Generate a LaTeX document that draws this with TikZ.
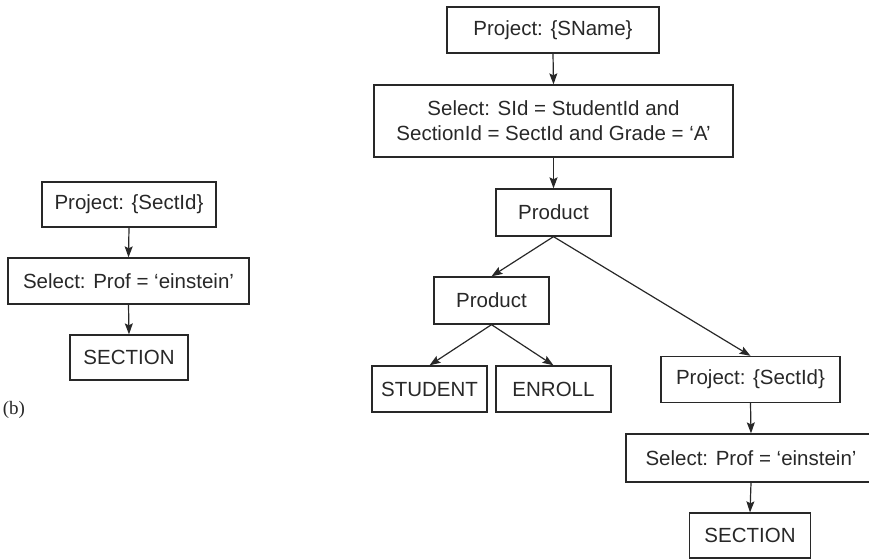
\documentclass[tikz,border=0pt]{standalone}
\usepackage{fontspec}
\setmainfont{Liberation Sans}
\newfontfamily\serifb{Liberation Serif}
\usetikzlibrary{arrows.meta}
\definecolor{ink}{RGB}{40,40,40}
\begin{document}
\begin{tikzpicture}[x=1pt,y=-1pt,
  box/.style={draw=ink, line width=1.3pt, text=ink, inner sep=0pt,
    font=\fontsize{20.5}{25}\selectfont, align=center},
  conn/.style={draw=ink, line width=1.2pt,
    -{Stealth[length=11pt,width=8pt,inset=2pt]}}]
\useasboundingbox (0,0) rectangle (869,559);
% left tree
\node[box, minimum width=174pt, minimum height=45pt] (lp) at (129,204.5) {Project: \{SectId\}};
\node[box, minimum width=241pt, minimum height=46pt] (ls) at (128.5,281) {Select: Prof = ‘einstein’};
\node[box, minimum width=118pt, minimum height=45pt] (lsec) at (129,357.5) {SECTION};
\node[text=ink, inner sep=0pt, font=\serifb\fontsize{19}{22}\selectfont] (lbl) at (14,410) {(b)};
\draw[conn] (lp.south) -- (ls.north);
\draw[conn] (ls.south) -- (lsec.north);
% right tree
\node[box, minimum width=212pt, minimum height=46pt] (p1) at (553,30) {Project: \{SName\}};
\node[box, minimum width=359pt, minimum height=72pt] (s1) at (553.5,121) {Select: SId = StudentId and\\SectionId = SectId and Grade = ‘A’};
\node[box, minimum width=115pt, minimum height=47pt] (prod1) at (553.5,212.5) {Product};
\node[box, minimum width=115pt, minimum height=47pt] (prod2) at (491.5,300.5) {Product};
\node[box, minimum width=115pt, minimum height=46pt] (stu) at (429.5,389) {STUDENT};
\node[box, minimum width=115pt, minimum height=46pt] (enr) at (553.5,389) {ENROLL};
\node[box, minimum width=179pt, minimum height=46pt] (rp) at (750.5,379.5) {Project: \{SectId\}};
\node[box, minimum width=250pt, minimum height=48pt] (rs) at (751,458) {Select: Prof = ‘einstein’};
\node[box, minimum width=121pt, minimum height=45pt] (rsec) at (750,535.5) {SECTION};
\draw[conn] (p1.south) -- (s1.north);
\draw[conn] (s1.south) -- (prod1.north);
\draw[conn] (prod1.south) -- (prod2.north);
\draw[conn] (prod1.south) -- (rp.north);
\draw[conn] (prod2.south) -- (stu.north);
\draw[conn] (prod2.south) -- (enr.north);
\draw[conn] (rp.south) -- (rs.north);
\draw[conn] (rs.south) -- (rsec.north);
\end{tikzpicture}
\end{document}
